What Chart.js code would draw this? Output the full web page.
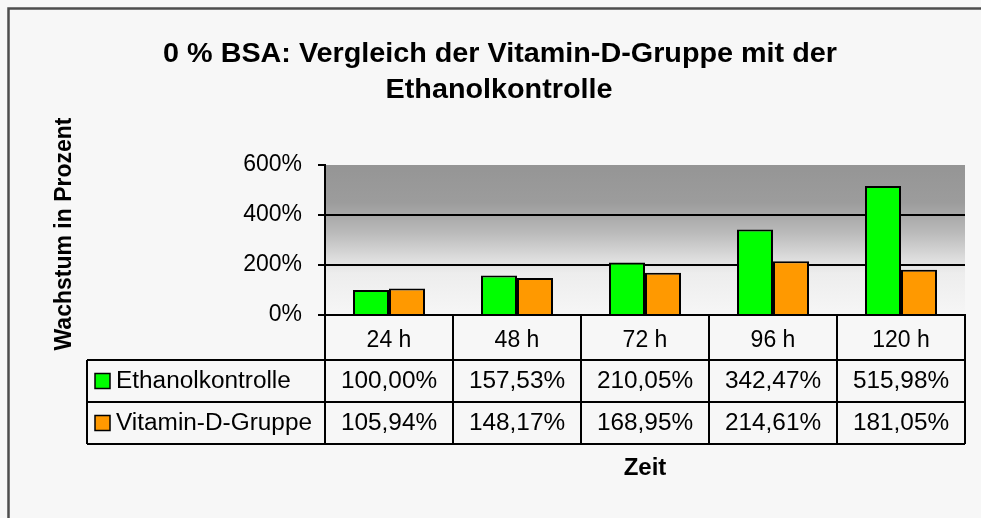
<!DOCTYPE html>
<html><head><meta charset="utf-8">
<script src="https://cdn.jsdelivr.net/npm/chart.js@4"></script>
<style>html,body{margin:0;padding:0;background:#f7f7f7;}canvas{display:block}</style>
</head><body>
<canvas id="c" width="981" height="518"></canvas>
<script>
const categories = ['24 h', '48 h', '72 h', '96 h', '120 h'];
const seriesNames = ['Ethanolkontrolle', 'Vitamin-D-Gruppe'];
const ethanolValues = [100.00, 157.53, 210.05, 342.47, 515.98];
const vitaminDValues = [105.94, 148.17, 168.95, 214.61, 181.05];
const seriesColors = ['#00ff00', '#ff9900'];
const yTickValues = [0, 200, 400, 600];
const titleLines = ['0 % BSA: Vergleich der Vitamin-D-Gruppe mit der', 'Ethanolkontrolle'];
const yTitle = 'Wachstum in Prozent';
const xTitle = 'Zeit';

const FONT = '"Liberation Sans", Arial, sans-serif';
const fmt = v => v.toFixed(2).replace('.', ',') + '%';

function stretchText(ctx, text, x, y, sx) {
  ctx.save();
  ctx.translate(x, y);
  ctx.scale(sx, 1);
  ctx.fillText(text, 0, 0);
  ctx.restore();
}

const decor = {
  id: 'decor',
  beforeDraw(chart) {
    const {ctx, chartArea: a} = chart;
    ctx.save();
    ctx.fillStyle = '#f7f7f7';
    ctx.fillRect(0, 0, chart.width, chart.height);
    const g = ctx.createLinearGradient(0, a.top, 0, a.bottom);
    g.addColorStop(0, '#959595');
    g.addColorStop(0.25, '#9c9c9c');
    g.addColorStop(0.45, '#bababa');
    g.addColorStop(0.62, '#dcdcdc');
    g.addColorStop(0.72, '#ededed');
    g.addColorStop(1, '#f6f6f6');
    ctx.fillStyle = g;
    ctx.fillRect(a.left, a.top, a.right - a.left, a.bottom - a.top);
    ctx.strokeStyle = '#4d4d4d';
    ctx.lineWidth = 2.5;
    ctx.beginPath();
    ctx.moveTo(8.5, chart.height + 10);
    ctx.lineTo(8.5, 8.5);
    ctx.lineTo(chart.width + 10, 8.5);
    ctx.stroke();
    ctx.restore();
  },
  afterDraw(chart) {
    const {ctx, chartArea: a} = chart;
    const xs = chart.scales.x;
    const n = categories.length;
    const cw = (a.right - a.left) / n;
    const headBottom = xs.bottom;
    const rowH = 42;
    const tableLeft = 87;
    const tableBottom = headBottom + 2 * rowH;
    ctx.save();
    ctx.strokeStyle = '#000';
    ctx.lineWidth = 2;
    ctx.beginPath();
    for (let r = 0; r <= 2; r++) {
      const y = headBottom + r * rowH;
      ctx.moveTo(tableLeft, y);
      ctx.lineTo(a.right, y);
    }
    for (let i = 0; i <= n; i++) {
      const x = a.left + i * cw;
      ctx.moveTo(x, a.bottom);
      ctx.lineTo(x, tableBottom);
    }
    ctx.moveTo(tableLeft, headBottom);
    ctx.lineTo(tableLeft, tableBottom);
    ctx.stroke();

    const seriesData = [ethanolValues, vitaminDValues];
    ctx.font = '23px ' + FONT;
    ctx.fillStyle = '#000';
    ctx.textBaseline = 'middle';
    for (let s = 0; s < 2; s++) {
      const cy = headBottom + s * rowH + rowH / 2;
      ctx.fillStyle = seriesColors[s];
      ctx.fillRect(95, cy - 7.5, 15, 15);
      ctx.lineWidth = 1.5;
      ctx.strokeRect(95, cy - 7.5, 15, 15);
      ctx.fillStyle = '#000';
      ctx.textAlign = 'left';
      stretchText(ctx, seriesNames[s], 116, cy + 1, 1.06);
      ctx.textAlign = 'center';
      seriesData[s].forEach((v, i) => {
        stretchText(ctx, fmt(v), xs.getPixelForValue(i), cy + 1, 1.06);
      });
    }

    ctx.textBaseline = 'alphabetic';
    ctx.textAlign = 'center';
    ctx.font = 'bold 27px ' + FONT;
    stretchText(ctx, titleLines[0], 500, 62, 1.065);
    stretchText(ctx, titleLines[1], 499, 98, 1.065);

    ctx.font = 'bold 24px ' + FONT;
    ctx.fillText(xTitle, (a.left + a.right) / 2, 475);

    ctx.translate(71, 234);
    ctx.rotate(-Math.PI / 2);
    ctx.font = 'bold 23px ' + FONT;
    ctx.fillText(yTitle, 0, 0);
    ctx.restore();
  }
};

new Chart(document.getElementById('c'), {
  type: 'bar',
  data: {
    labels: categories,
    datasets: [
      {label: seriesNames[0], data: ethanolValues, backgroundColor: seriesColors[0], borderColor: '#000', borderWidth: 2},
      {label: seriesNames[1], data: vitaminDValues, backgroundColor: seriesColors[1], borderColor: '#000', borderWidth: 2}
    ]
  },
  options: {
    responsive: false,
    devicePixelRatio: 1,
    animation: false,
    layout: {padding: {top: 165, right: 16, bottom: 158, left: 0}},
    datasets: {bar: {categoryPercentage: 0.5625, barPercentage: 1}},
    plugins: {legend: {display: false}, tooltip: {enabled: false}, title: {display: false}},
    scales: {
      x: {
        afterFit(scale) { scale.height = 45; },
        grid: {display: false},
        border: {display: true, color: '#000', width: 2},
        ticks: {color: '#000', font: {family: FONT, size: 23}, padding: 4, maxRotation: 0}
      },
      y: {
        min: 0, max: 600,
        afterFit(scale) { scale.width = 325; },
        afterBuildTicks(scale) { scale.ticks = yTickValues.map(v => ({value: v})); },
        grid: {
          color: c => (c.tick && (c.tick.value === 600 || c.tick.value === 0)) ? 'rgba(0,0,0,0)' : '#000',
          tickColor: '#000', lineWidth: 2, tickLength: 7
        },
        border: {display: true, color: '#000', width: 2},
        ticks: {color: '#000', font: {family: FONT, size: 23}, padding: 16, callback: v => v + '%'}
      }
    }
  },
  plugins: [decor]
});
</script>
</body></html>
